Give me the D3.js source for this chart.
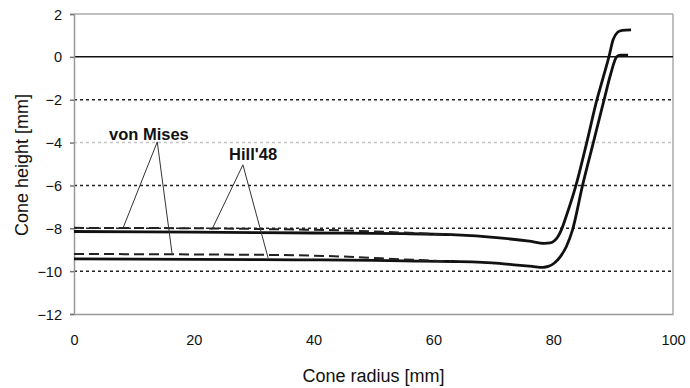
<!DOCTYPE html>
<html><head><meta charset="utf-8">
<script src="https://cdn.jsdelivr.net/npm/d3@7"></script>
<style>body{margin:0;background:#fff}svg{display:block}text{font-family:"Liberation Sans",Arial,sans-serif}</style>
</head><body><div id="chart"></div>
<script>
// ---- data ----
const xTicks = [0, 20, 40, 60, 80, 100];
const yTicks = [2, 0, -2, -4, -6, -8, -10, -12];
const hillUpperX = [0, 20, 40, 55, 63, 71, 76, 78.5, 79.5, 80.2, 80.8, 81.4, 82.1, 83.8, 85.6, 87.3, 88.3, 89.3, 90.0, 90.8, 91.5, 93];
const hillUpperY = [-8.15, -8.18, -8.22, -8.25, -8.3, -8.45, -8.6, -8.7, -8.68, -8.58, -8.38, -8.05, -7.5, -6, -4, -2, -1, 0, 0.8, 1.16, 1.24, 1.26];
const hillLowerX = [0, 20, 37, 50, 55, 63, 71, 74, 76.5, 78.3, 79.2, 80.2, 81.2, 82.2, 83.2, 84.9, 86.7, 88.5, 89.6, 90.6, 91.2, 92.5];
const hillLowerY = [-9.43, -9.45, -9.47, -9.5, -9.52, -9.55, -9.64, -9.72, -9.78, -9.82, -9.78, -9.62, -9.32, -8.85, -8.1, -6, -4, -2, -0.8, 0, 0.08, 0.08];
const misesUpperX = [0, 20, 35, 45, 55, 63];
const misesUpperY = [-7.98, -8.0, -8.05, -8.1, -8.2, -8.3];
const misesLowerX = [0, 20, 35, 45, 55, 63];
const misesLowerY = [-9.2, -9.22, -9.25, -9.32, -9.45, -9.55];
const labels = ["von Mises", "Hill'48"];
const xTitle = "Cone radius [mm]";
const yTitle = "Cone height [mm]";

(function () {
// ---- layout ----
const W = 690, H = 388;
const mLeft = 74, mRight = 673, mTop = 14, mBottom = 314;
const svg = d3.select("#chart").append("svg").attr("width", W).attr("height", H);
const x = d3.scaleLinear().domain([0, 100]).range([mLeft, mRight]);
const y = d3.scaleLinear().domain([-12, 2]).range([mBottom, mTop]);

// gridlines
[-10, -8, -6, -4, -2].forEach(v => {
  svg.append("line").attr("x1", x(0)).attr("x2", x(100)).attr("y1", y(v)).attr("y2", y(v))
    .attr("stroke", v === -4 ? "#c4c4c4" : "#222").attr("stroke-width", 1.5)
    .attr("stroke-dasharray", "3,3");
});
// frame
svg.append("line").attr("x1", x(0)).attr("x2", x(100)).attr("y1", y(2)).attr("y2", y(2)).attr("stroke", "#aaa").attr("stroke-width", 1.5);
svg.append("line").attr("x1", x(100)).attr("x2", x(100)).attr("y1", y(2)).attr("y2", y(-12)).attr("stroke", "#aaa").attr("stroke-width", 1.5);
// zero line
svg.append("line").attr("x1", x(0)).attr("x2", x(100)).attr("y1", y(0)).attr("y2", y(0)).attr("stroke", "#111").attr("stroke-width", 1.5);

// axes
const yAxis = svg.append("g").attr("transform", `translate(${mLeft},0)`)
  .call(d3.axisLeft(y).tickValues(yTicks).tickSize(4).tickPadding(8).tickFormat(d3.format("d")));
const xAxis = svg.append("g").attr("transform", `translate(0,${mBottom})`)
  .call(d3.axisBottom(x).tickValues(xTicks).tickSize(0).tickPadding(21).tickFormat(d3.format("d")));
[yAxis, xAxis].forEach(g => {
  g.select(".domain").attr("stroke", "#999").attr("stroke-width", 1.5);
  g.selectAll(".tick line").attr("stroke", "#777").attr("stroke-width", 1.5);
  g.selectAll(".tick text").attr("font-size", 14.5).attr("fill", "#111").attr("font-family", "Liberation Sans, Arial, sans-serif");
});
yAxis.selectAll(".tick text").attr("dy", "0.35em");

// titles
svg.append("text").attr("x", (mLeft + mRight) / 2).attr("y", 382).attr("text-anchor", "middle")
  .attr("font-size", 18).attr("fill", "#111").text(xTitle);
svg.append("text").attr("transform", `translate(28,165) rotate(-90)`).attr("text-anchor", "middle")
  .attr("font-size", 18).attr("fill", "#111").text(yTitle);

// curves
function series(xs, ys) { return xs.map((v, i) => [v, ys[i]]); }
const line = d3.line().x(d => x(d[0])).y(d => y(d[1])).curve(d3.curveMonotoneX);
[[hillUpperX, hillUpperY], [hillLowerX, hillLowerY]].forEach(([xs, ys]) => {
  svg.append("path").datum(series(xs, ys)).attr("d", line).attr("fill", "none")
    .attr("stroke", "#111").attr("stroke-width", 2.8).attr("stroke-linejoin", "round");
});
[[misesUpperX, misesUpperY], [misesLowerX, misesLowerY]].forEach(([xs, ys]) => {
  svg.append("path").datum(series(xs, ys)).attr("d", line).attr("fill", "none")
    .attr("stroke", "#222").attr("stroke-width", 2).attr("stroke-dasharray", "10,5");
});

// annotations (data coordinates)
const notes = [
  { text: labels[0], tx: 12.5, ty: -3.88, apex: [13.9, -3.97], ends: [[8.2, -7.98], [16.4, -9.24]] },
  { text: labels[1], tx: 29.9, ty: -4.81, apex: [28.2, -5.04], ends: [[23.0, -8.07], [32.4, -9.38]] }
];
notes.forEach(n => {
  svg.append("text").attr("x", x(n.tx)).attr("y", y(n.ty)).attr("text-anchor", "middle")
    .attr("font-size", 16.5).attr("font-weight", "bold").attr("fill", "#111").text(n.text);
  n.ends.forEach(e => {
    svg.append("line").attr("x1", x(n.apex[0])).attr("y1", y(n.apex[1])).attr("x2", x(e[0])).attr("y2", y(e[1]))
      .attr("stroke", "#333").attr("stroke-width", 1);
  });
});
})();
</script></body></html>
